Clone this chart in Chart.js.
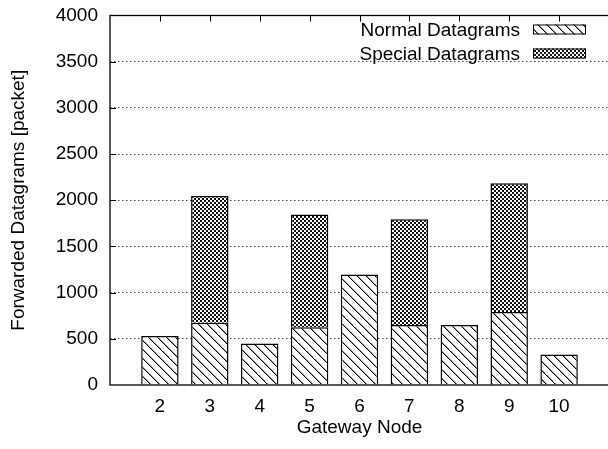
<!DOCTYPE html>
<html lang="en">
<head>
  <meta charset="UTF-8" />
  <title>Forwarded Datagrams per Gateway Node</title>
  <style>
    html, body { margin: 0; padding: 0; background: #fff; overflow: hidden; }
    #wrap { width: 612px; height: 449px; }
  </style>
  <script src="https://cdn.jsdelivr.net/npm/chart.js"></script>
</head>
<body>
  <div id="wrap"><canvas id="chart" width="612" height="449"></canvas></div>

  <script>
    const nodes = [2, 3, 4, 5, 6, 7, 8, 9, 10];
    const normalDatagrams = [530, 675, 450, 625, 1195, 650, 650, 790, 330];
    const specialDatagrams = [0, 1370, 0, 1220, 0, 1145, 0, 1395, 0];
    const seriesNames = ["Normal Datagrams", "Special Datagrams"];
    const yMax = 4000;
    const yStep = 500;

    const FONT = "'Liberation Sans', Arial, sans-serif";

    // diagonal hatch, lines going top-left to bottom-right
    function hatchPattern(ctx) {
      const c = document.createElement("canvas");
      c.width = c.height = 9;
      const g = c.getContext("2d");
      g.fillStyle = "#fff";
      g.fillRect(0, 0, 9, 9);
      g.fillStyle = "rgba(0,0,0,0.4)";
      for (let i = 0; i < 9; i++) g.fillRect((i + 1) % 9, i, 1, 1);
      g.fillStyle = "#000";
      for (let i = 0; i < 9; i++) g.fillRect(i, i, 1, 1);
      return ctx.createPattern(c, "repeat");
    }

    // dense cross hatch
    function crossPattern(ctx) {
      const c = document.createElement("canvas");
      c.width = c.height = 4;
      const g = c.getContext("2d");
      g.fillStyle = "#fff";
      g.fillRect(0, 0, 4, 4);
      g.fillStyle = "#111";
      for (let x = 0; x < 4; x++) {
        for (let y = 0; y < 4; y++) {
          if (((x >> 1) + (y >> 1)) % 2 === 0) g.fillRect(x, y, 1, 1);
        }
      }
      return ctx.createPattern(c, "repeat");
    }

    const canvas = document.getElementById("chart");
    const ctx = canvas.getContext("2d");
    const fills = [hatchPattern(ctx), crossPattern(ctx)];

    // border, inward ticks and the legend inside the plot
    const framePlugin = {
      id: "frame",
      afterDatasetsDraw(chart) {
        const { ctx, chartArea: a, scales: { x, y } } = chart;
        ctx.save();
        ctx.strokeStyle = "#000";
        ctx.lineWidth = 1;
        ctx.beginPath();
        for (let v = yStep; v < yMax; v += yStep) {
          const py = Math.round(y.getPixelForValue(v)) + 0.5;
          ctx.moveTo(a.left, py);
          ctx.lineTo(a.left + 6, py);
        }
        nodes.forEach(n => {
          const px = Math.round(x.getPixelForValue(n)) + 0.5;
          ctx.moveTo(px, a.top);
          ctx.lineTo(px, a.top + 6);
        });
        ctx.stroke();
        ctx.lineWidth = 1.3;
        ctx.strokeRect(a.left, a.top, a.right - a.left, a.bottom - a.top);

        // legend
        ctx.font = "19px " + FONT;
        ctx.fillStyle = "#000";
        ctx.textAlign = "right";
        ctx.textBaseline = "middle";
        const rowsY = [a.top + 14, a.top + 38];
        seriesNames.forEach((name, i) => {
          const cy = rowsY[i];
          ctx.fillText(name, a.right - 89, cy + 1);
          ctx.fillStyle = fills[i];
          ctx.fillRect(a.right - 76, cy - 5, 53, 10);
          ctx.lineWidth = 1;
          ctx.strokeRect(a.right - 75.5, cy - 4.5, 52, 9);
          ctx.fillStyle = "#000";
        });
        ctx.restore();
      }
    };

    Chart.defaults.font.family = FONT;
    Chart.defaults.font.size = 19;
    Chart.defaults.color = "#000";

    new Chart(ctx, {
      type: "bar",
      data: {
        datasets: [
          {
            label: seriesNames[0],
            data: nodes.map((n, i) => ({ x: n, y: normalDatagrams[i] })),
            backgroundColor: fills[0],
            borderColor: "#000",
            borderWidth: 1.5
          },
          {
            label: seriesNames[1],
            data: nodes.map((n, i) => ({ x: n, y: specialDatagrams[i] }))
              .filter(d => d.y > 0),
            backgroundColor: fills[1],
            borderColor: "#000",
            borderWidth: 1.5
          }
        ]
      },
      options: {
        responsive: false,
        animation: false,
        barPercentage: 0.75,
        categoryPercentage: 1,
        layout: { padding: { top: 15.5, right: 3, left: 0, bottom: 0 } },
        plugins: {
          legend: { display: false },
          tooltip: { enabled: false }
        },
        scales: {
          x: {
            type: "linear",
            stacked: true,
            offset: false,
            min: 1,
            max: 11,
            grid: { display: false, drawTicks: false },
            border: { display: false },
            ticks: {
              stepSize: 1,
              padding: 10,
              autoSkip: false,
              maxRotation: 0,
              callback: v => (nodes.includes(v) ? String(v) : "")
            },
            title: {
              display: true,
              text: "Gateway Node",
              padding: { top: 0, bottom: 10 }
            },
            afterFit: s => { s.height = 64; s.paddingLeft = 0; s.paddingRight = 0; }
          },
          y: {
            stacked: true,
            min: 0,
            max: yMax,
            grid: {
              drawTicks: false,
              lineWidth: 1,
              color: c => (c.tick && c.tick.value > 0 && c.tick.value < yMax) ? "#444" : "rgba(0,0,0,0)"
            },
            border: { display: false, dash: [1.5, 2.5] },
            ticks: { stepSize: yStep, padding: 12, callback: v => String(v) },
            title: {
              display: true,
              text: "Forwarded Datagrams [packet]",
              padding: { top: 7, bottom: 0 }
            },
            afterFit: s => { s.width = 110; s.paddingTop = 0; s.paddingBottom = 0; }
          }
        }
      },
      plugins: [framePlugin]
    });
  </script>
</body>
</html>
